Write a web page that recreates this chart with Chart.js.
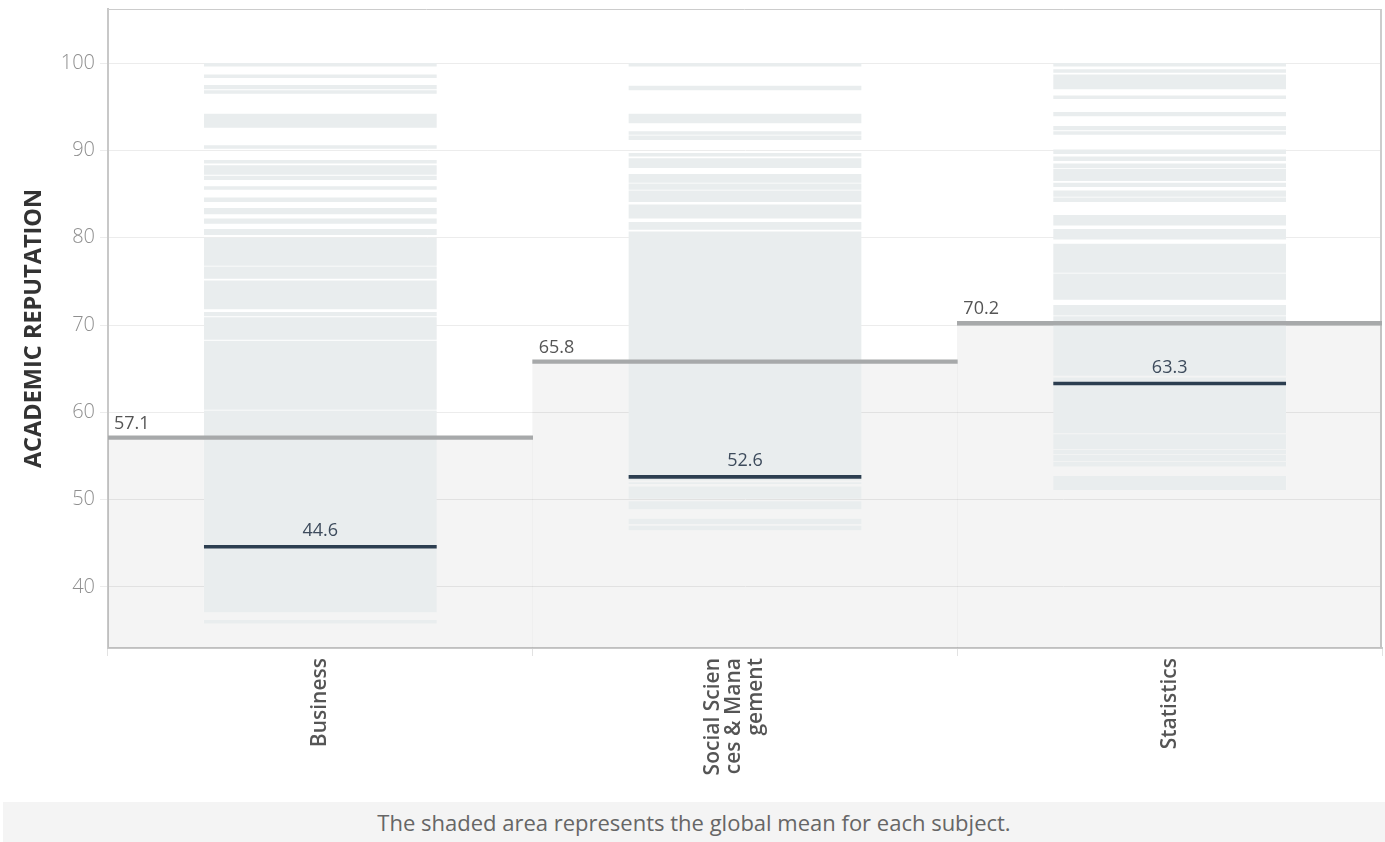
<!DOCTYPE html>
<html lang="en">
<head>
    <meta charset="UTF-8">
    <title>Academic Reputation by Subject</title>
    <script src="https://cdn.jsdelivr.net/npm/chart.js"></script>
    <style>
        body {
            margin: 0;
            background: #fff;
            font-family: "Open Sans", sans-serif;
            overflow: hidden;
        }
        .chart-box {
            position: absolute;
            left: 0;
            top: -8px;
            width: 1385px;
            height: 808px;
        }
        .note {
            position: absolute;
            left: 3px;
            top: 802px;
            width: 1382px;
            height: 40px;
            line-height: 40px;
            background: #f4f4f4;
            color: #666;
            font-size: 22px;
            text-align: center;
        }
    </style>
</head>
<body>
<div class="chart-box"><canvas id="chart"></canvas></div>
<div class="note">The shaded area represents the global mean for each subject.</div>

<script>
    const subjects = ['Business', 'Social Sciences & Management', 'Statistics'];
    const subjectLabels = ['Business', ['Social Scien', 'ces & Mana', 'gement'], 'Statistics'];
    const globalMean = [57.1, 65.8, 70.2];
    const subjectMean = [44.6, 52.6, 63.3];
    const yTicks = [40, 50, 60, 70, 80, 90, 100];
    const yMin = 33;
    const yMax = 106.2;

    // score bands of the institutions in each subject [low, high]
    const businessBands = [
        [99.6, 100], [98.3, 98.7], [97.0, 97.5], [96.5, 96.9], [92.6, 94.2], [90.2, 90.6],
        [88.5, 88.9], [87.2, 88.3], [86.6, 87.1], [85.5, 85.9], [84.1, 84.6], [82.7, 83.4],
        [81.6, 82.2], [80.3, 81.0], [76.8, 80.0], [75.3, 76.7], [71.8, 75.1], [71.0, 71.5],
        [68.3, 70.9], [60.3, 68.2], [37.1, 60.2], [35.8, 36.2]
    ];
    const socialBands = [
        [99.6, 100], [96.9, 97.4], [93.1, 94.2], [91.8, 92.2], [91.2, 91.7], [89.3, 89.7],
        [88.0, 89.1], [86.3, 87.3], [85.5, 86.2], [84.1, 85.4], [82.2, 83.8], [80.9, 81.8],
        [52.2, 80.7], [51.8, 52.0], [50.1, 51.5], [48.9, 49.8], [47.2, 47.8], [46.5, 47.0]
    ];
    const statsBands = [
        [99.6, 100], [98.9, 99.3], [97.0, 98.7], [95.9, 96.3], [93.9, 94.4], [92.3, 92.8],
        [91.8, 92.2], [89.6, 90.1], [88.8, 89.3], [88.0, 88.5], [86.5, 87.9], [85.8, 86.3],
        [84.7, 85.4], [84.1, 84.6], [81.4, 82.6], [79.8, 81.0], [76.0, 79.3], [72.9, 75.9],
        [71.1, 72.3], [64.2, 71.0], [57.6, 64.0], [55.8, 57.5], [55.2, 55.7], [54.4, 55.1],
        [53.8, 54.3], [51.1, 52.7]
    ];

    const bandData = [];
    [businessBands, socialBands, statsBands].forEach((bands, i) => {
        bands.forEach(b => bandData.push({ x: subjectLabels[i], y: b }));
    });

    const half = 0.21;
    const xFontSize = 21;
    const xLineHeight = 1.03;

    const frame = {
        id: 'frame',
        beforeDatasetsDraw(chart) {
            const { ctx, chartArea: a } = chart;
            ctx.save();
            ctx.strokeStyle = '#cccccc';
            ctx.lineWidth = 1;
            ctx.beginPath();
            ctx.moveTo(a.left, a.top + 0.5);
            ctx.lineTo(a.right - 0.5, a.top + 0.5);
            ctx.stroke();
            ctx.lineWidth = 2;
            ctx.beginPath();
            ctx.moveTo(a.right - 1, a.top);
            ctx.lineTo(a.right - 1, a.bottom);
            ctx.stroke();
            ctx.restore();
        }
    };

    // wrapped tick label sits a bit left of its tick, like the original
    const shiftWrapped = {
        id: 'shiftWrapped',
        beforeDraw(chart) {
            const items = chart.scales.x.getLabelItems();
            items.forEach(it => {
                if (Array.isArray(it.label) && !it._shifted) {
                    it.options.translation[0] -= 1.5 * xFontSize * xLineHeight;
                    it._shifted = true;
                }
            });
        }
    };

    const valueLabels = {
        id: 'valueLabels',
        afterDatasetsDraw(chart) {
            const ctx = chart.ctx;
            ctx.save();
            ctx.font = '18px "Open Sans"';
            ctx.textBaseline = 'alphabetic';

            chart.getDatasetMeta(2).data.forEach((el, i) => {
                const top = Math.min(el.y, el.base);
                ctx.fillStyle = '#555';
                ctx.textAlign = 'left';
                ctx.fillText(globalMean[i].toFixed(1), el.x - el.width / 2 + 6, top - 7);
            });
            chart.getDatasetMeta(3).data.forEach((el, i) => {
                const top = Math.min(el.y, el.base);
                ctx.fillStyle = '#3d4b5c';
                ctx.textAlign = 'center';
                ctx.fillText(subjectMean[i].toFixed(1), el.x, top - 9);
            });
            ctx.restore();
        }
    };

    new Chart(document.getElementById('chart'), {
        type: 'bar',
        data: {
            labels: subjectLabels,
            datasets: [
                {
                    label: 'Global mean area',
                    data: globalMean.map(v => [yMin, v]),
                    backgroundColor: 'rgba(0, 0, 0, 0.045)',
                    barPercentage: 1,
                    categoryPercentage: 1,
                    grouped: false,
                    order: 4
                },
                {
                    label: 'Institutions',
                    data: bandData,
                    backgroundColor: '#e9edee',
                    barPercentage: 0.548,
                    categoryPercentage: 1,
                    grouped: false,
                    order: 3
                },
                {
                    label: 'Global mean',
                    data: globalMean.map(v => [v - half, v + half]),
                    backgroundColor: '#a7a9aa',
                    barPercentage: 1,
                    categoryPercentage: 1,
                    grouped: false,
                    order: 2
                },
                {
                    label: 'Subject mean',
                    data: subjectMean.map(v => [v - half, v + half]),
                    backgroundColor: '#2c3e50',
                    barPercentage: 0.548,
                    categoryPercentage: 1,
                    grouped: false,
                    order: 1
                }
            ]
        },
        options: {
            responsive: true,
            maintainAspectRatio: false,
            animation: false,
            layout: { padding: { top: 0, right: 3, left: 0, bottom: 0 } },
            plugins: {
                legend: { display: false },
                tooltip: { enabled: false }
            },
            scales: {
                x: {
                    afterFit: scale => { scale.height = 152; },
                    grid: {
                        drawOnChartArea: false,
                        offset: true,
                        tickLength: 8,
                        color: '#e2e2e2'
                    },
                    border: { color: '#c8c8c8', width: 2 },
                    ticks: {
                        minRotation: 90,
                        maxRotation: 90,
                        padding: 2,
                        color: '#555',
                        font: { family: 'Open Sans', size: xFontSize, weight: '600', lineHeight: xLineHeight }
                    }
                },
                y: {
                    min: yMin,
                    max: yMax,
                    afterFit: scale => { scale.width = 108; },
                    afterBuildTicks: scale => { scale.ticks = yTicks.map(v => ({ value: v })); },
                    grid: { color: '#ececec', tickLength: 8 },
                    border: { color: '#c8c8c8', width: 2 },
                    ticks: {
                        padding: 5,
                        color: '#8f8f8f',
                        font: { family: 'Open Sans', size: 20, weight: '300' }
                    },
                    title: {
                        display: true,
                        text: 'ACADEMIC REPUTATION',
                        color: '#333',
                        padding: { top: 20, bottom: 0 },
                        font: { family: 'Open Sans', size: 23.5, weight: 'bold' }
                    }
                }
            }
        },
        plugins: [frame, shiftWrapped, valueLabels]
    });
</script>
</body>
</html>
